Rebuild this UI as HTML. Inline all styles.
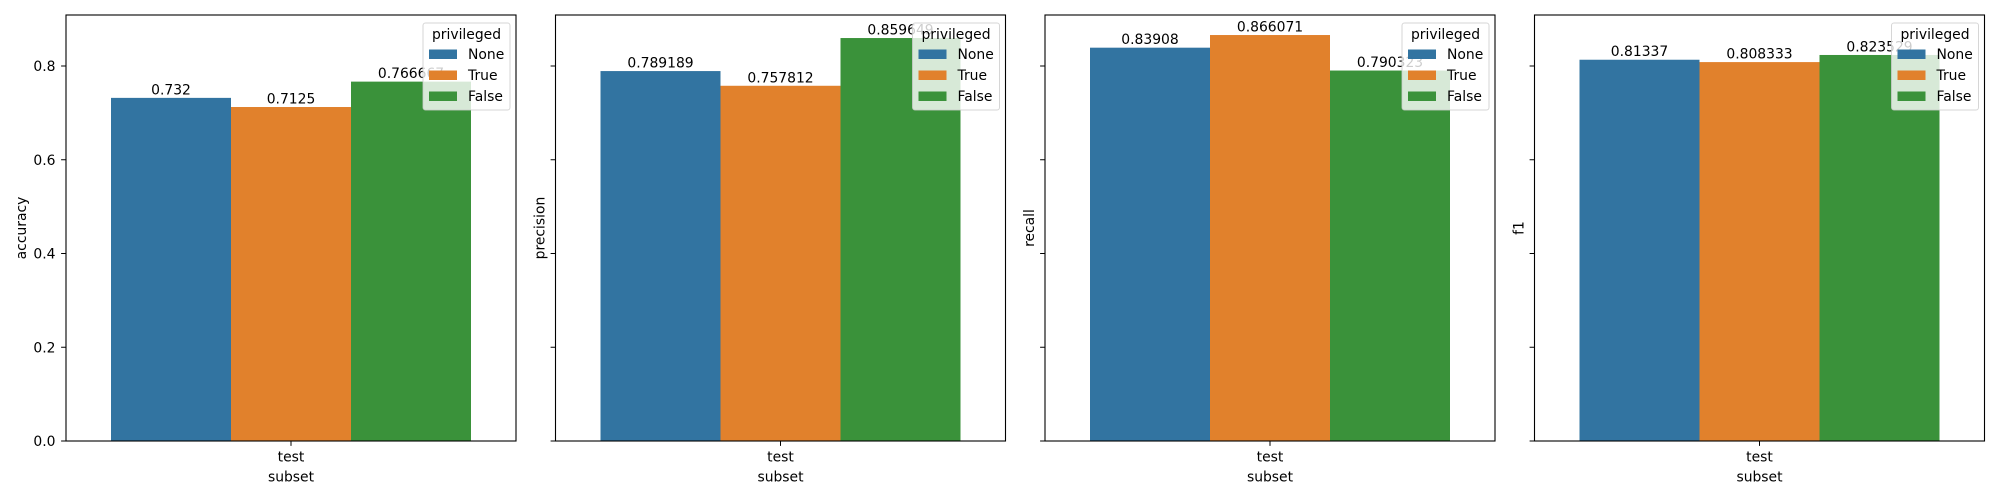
<!DOCTYPE html>
<html><head><meta charset="utf-8"><style>
html,body{margin:0;padding:0;background:#fff;}
svg{display:block;font-family:"DejaVu Sans","Liberation Sans",sans-serif;}
</style></head><body>
<svg id="chart" width="2000" height="500" viewBox="0 0 2000 500" xmlns="http://www.w3.org/2000/svg"></svg>
<script>
const metrics = ["accuracy", "precision", "recall", "f1"];
const groups = ["None", "True", "False"];
const accuracyVals = [0.732, 0.7125, 0.766667];
const precisionVals = [0.789189, 0.757812, 0.859649];
const recallVals = [0.83908, 0.866071, 0.790323];
const f1Vals = [0.81337, 0.808333, 0.823529];
const valueLabels = [["0.732","0.7125","0.766667"],["0.789189","0.757812","0.859649"],["0.83908","0.866071","0.790323"],["0.81337","0.808333","0.823529"]];
const yTicks = [0.0, 0.2, 0.4, 0.6, 0.8];
const yTickLabels = ["0.0","0.2","0.4","0.6","0.8"];
const category = "test";

const allVals = [accuracyVals, precisionVals, recallVals, f1Vals];
const colors = ["#3274a1", "#e1812c", "#3a923a"];
const NS = "http://www.w3.org/2000/svg";
const svgRoot = document.getElementById("chart");
const axLefts = [66, 555.5, 1045, 1534.5];
const axW = 450, axTop = 15, axBottom = 441, yMax = 0.9088;
function yScale(v){ return axBottom - v / yMax * (axBottom - axTop); }
function el(tag, attrs, parent){ const e = document.createElementNS(NS, tag); for (const k in attrs) e.setAttribute(k, attrs[k]); (parent||svgRoot).appendChild(e); return e; }
function txt(s, attrs, parent){ const t = el("text", attrs, parent); t.textContent = s; return t; }

metrics.forEach((m, i) => {
  const L = axLefts[i];
  const xScale = x => L + (x + 0.5) * axW;
  const g = el("g", {});
  
  
  const vals = allVals[i];
  const bw = 0.8 / groups.length;
  vals.forEach((v, j) => {
    const x0 = xScale(-0.4 + j * bw), x1 = xScale(-0.4 + (j + 1) * bw);
    const r = el("rect", {x: x0, y: yScale(v), width: x1 - x0, height: axBottom - yScale(v), fill: colors[j]}, g);
    
    
  });
  vals.forEach((v, j) => {
    const cx = xScale(-0.4 + (j + 0.5) * bw);
    const t = txt(valueLabels[i][j], {x: cx, y: yScale(v) - 3.5, "text-anchor": "middle", "font-size": "13.9", fill: "#000"}, g);
    
    
  });
  yTicks.forEach((tv, k) => {
    const y = yScale(tv);
    el("line", {x1: L - 4.9, x2: L, y1: y, y2: y, stroke: "#000", "stroke-width": 1}, g);
    if (i === 0) {
      const t = txt(yTickLabels[k], {x: L - 10.5, y: y + 5, "text-anchor": "end", "font-size": "13.9", fill: "#000"}, g);
      
      
    }
  });
  const cx = xScale(0);
  el("line", {x1: cx, x2: cx, y1: axBottom, y2: axBottom + 4.9, stroke: "#000", "stroke-width": 1}, g);
  const xt = txt(category, {x: cx, y: axBottom + 20.5, "text-anchor": "middle", "font-size": "13.9", fill: "#000"}, g);
  
  
  const xl = txt("subset", {x: cx, y: axBottom + 40.5, "text-anchor": "middle", "font-size": "13.9", fill: "#000"}, g);
  
  
  const ylx = i === 0 ? L - 45 : L - 16;
  const yc = (axTop + axBottom) / 2;
  const yl = txt(m, {x: ylx + 5, y: yc, "text-anchor": "middle", "font-size": "13.9", fill: "#000", transform: "rotate(-90 " + (ylx + 5) + " " + yc + ")"}, g);
  
  
  const fr = el("rect", {x: L, y: axTop, width: axW, height: axBottom - axTop, fill: "none", stroke: "#000", "stroke-width": 1.1}, g);
  
  
  const lg = el("g", {}, g);
  
  
  const lx = L + axW - 6 - 87, ly = 23;
  el("rect", {x: lx, y: ly, width: 87, height: 87, rx: 2.5, fill: "#fff", "fill-opacity": 0.8, stroke: "#ccc", "stroke-opacity": 0.8, "stroke-width": 1}, lg);
  const lt = txt("privileged", {x: lx + 43.5, y: ly + 16, "text-anchor": "middle", "font-size": "13.9", fill: "#000"}, lg);
  
  
  groups.forEach((gname, j) => {
    const ry = ly + 31 + j * 21;
    const e = el("g", {}, lg);
    
    
    el("rect", {x: lx + 6, y: ry - 4.5, width: 28, height: 9.5, fill: colors[j]}, e);
    txt(gname, {x: lx + 45, y: ry + 5, "font-size": "13.9", fill: "#000"}, e);
  });
});
</script>
</body></html>
